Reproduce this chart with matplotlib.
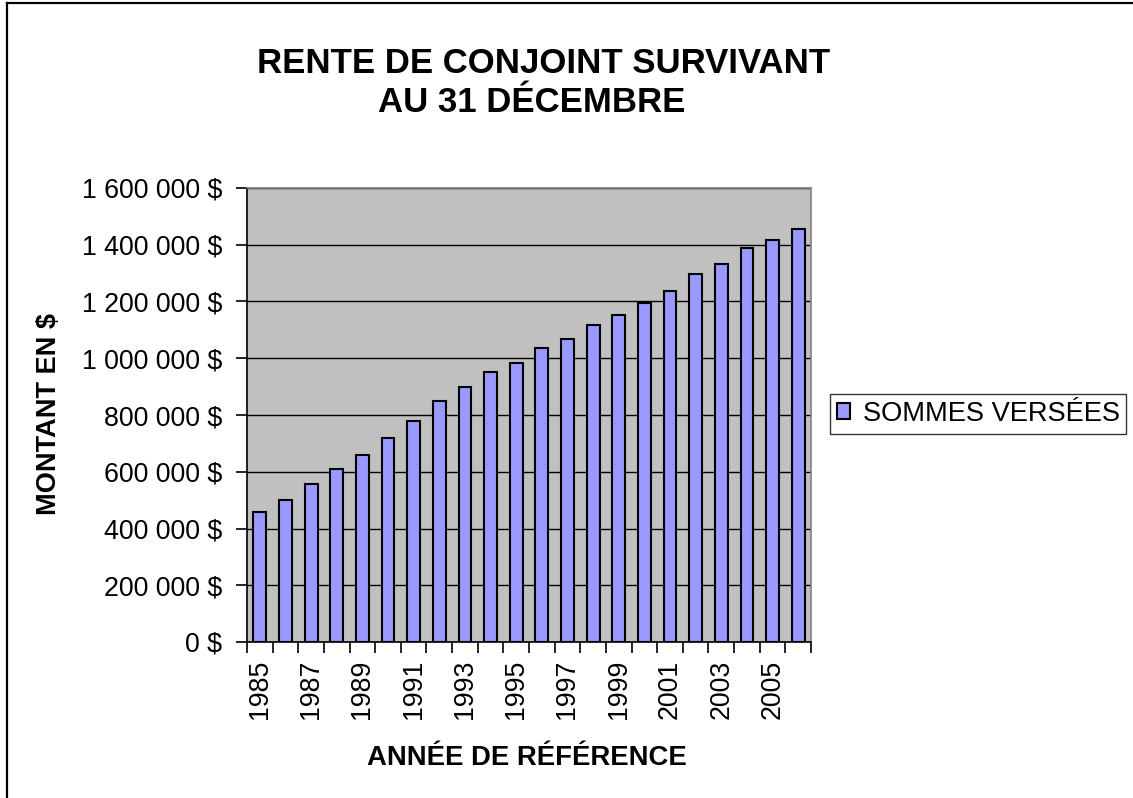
"""
Rente de conjoint survivant au 31 décembre - sommes versées par année
"""
import matplotlib
matplotlib.use("Agg")
import matplotlib.pyplot as plt
from matplotlib.lines import Line2D
from matplotlib.ticker import FuncFormatter, MultipleLocator
import numpy as np

plt.rcParams["font.family"] = ["Liberation Sans", "DejaVu Sans"]

# ── Data ──────────────────────────────────────────────────────────────────────
years = [1985, 1986, 1987, 1988, 1989, 1990, 1991, 1992, 1993, 1994, 1995,
         1996, 1997, 1998, 1999, 2000, 2001, 2002, 2003, 2004, 2005, 2006]
sommes = [458000, 500000, 556000, 608000, 658000, 719000, 779000, 850000,
          899000, 953000, 983000, 1037000, 1068000, 1116000, 1152000, 1195000,
          1237000, 1297000, 1333000, 1387000, 1418000, 1454000]

bar_color = "#9999FF"
plot_bg = "#C0C0C0"
W, H = 1133, 798

x = np.arange(len(years))

fig = plt.figure(figsize=(W / 100, H / 100), dpi=100)
ax = fig.add_axes([247 / W, 1 - 642 / H, (811 - 247) / W, (642 - 188) / H])
ax.set_facecolor(plot_bg)

ax.bar(x, sommes, width=0.5, color=bar_color, edgecolor="black",
       linewidth=1.5, zorder=3, label="SOMMES VERSÉES")

ax.set_xlim(-0.5, len(years) - 0.5)
ax.set_ylim(0, 1600000)
ax.yaxis.set_major_locator(MultipleLocator(200000))
ax.yaxis.set_major_formatter(
    FuncFormatter(lambda v, p: f"{int(v):,} $".replace(",", " ")))
ax.yaxis.grid(True, color="black", linewidth=1)
ax.set_axisbelow(True)

# year labels every other category, ticks on category boundaries
ax.set_xticks(x[::2])
ax.set_xticklabels([str(y) for y in years[::2]], rotation=90)
ax.set_xticks(np.arange(-0.5, len(years), 1.0), minor=True)
ax.tick_params(axis="x", which="major", length=0, pad=13, labelsize=19.3)
ax.tick_params(axis="x", which="minor", length=8, width=1.2, direction="out")
ax.tick_params(axis="y", length=8, width=1.2, direction="out", pad=10,
               labelsize=19.3)

for side in ["left", "bottom"]:
    ax.spines[side].set_color("black")
    ax.spines[side].set_linewidth(1.2)
for side in ["top", "right"]:
    ax.spines[side].set_color("#808080")
    ax.spines[side].set_linewidth(1.2)

# ── Titles ────────────────────────────────────────────────────────────────────
fig.text(544 / W, 1 - 73 / H, "RENTE DE CONJOINT SURVIVANT", ha="center",
         va="baseline", fontsize=25, fontweight="bold")
fig.text(532 / W, 1 - 112 / H, "AU 31 DÉCEMBRE", ha="center",
         va="baseline", fontsize=25, fontweight="bold")
fig.text(49 / W, 1 - 414 / H, "MONTANT EN $", rotation=90, ha="center",
         va="center", fontsize=19.5, fontweight="bold")
fig.text(527 / W, 1 - 765 / H, "ANNÉE DE RÉFÉRENCE", ha="center",
         va="baseline", fontsize=19.8, fontweight="bold")

# ── Legend ────────────────────────────────────────────────────────────────────
leg = fig.legend(loc="upper left", bbox_to_anchor=(830 / W, 1 - 394 / H),
                 fontsize=19.6, frameon=True, fancybox=False, shadow=False,
                 handlelength=0.5, handleheight=0.5, handletextpad=0.45,
                 borderpad=0.25, borderaxespad=0)
leg.get_frame().set_edgecolor("black")
leg.get_frame().set_linewidth(1.0)

# ── Outer chart border (top and left visible) ────────────────────────────────
fig.add_artist(Line2D([7 / W, 7 / W], [0, 1 - 3 / H], color="black",
                      linewidth=1.6, transform=fig.transFigure))
fig.add_artist(Line2D([7 / W, 1], [1 - 3 / H, 1 - 3 / H], color="black",
                      linewidth=1.6, transform=fig.transFigure))

plt.savefig("out.png", dpi=100)
plt.close()
